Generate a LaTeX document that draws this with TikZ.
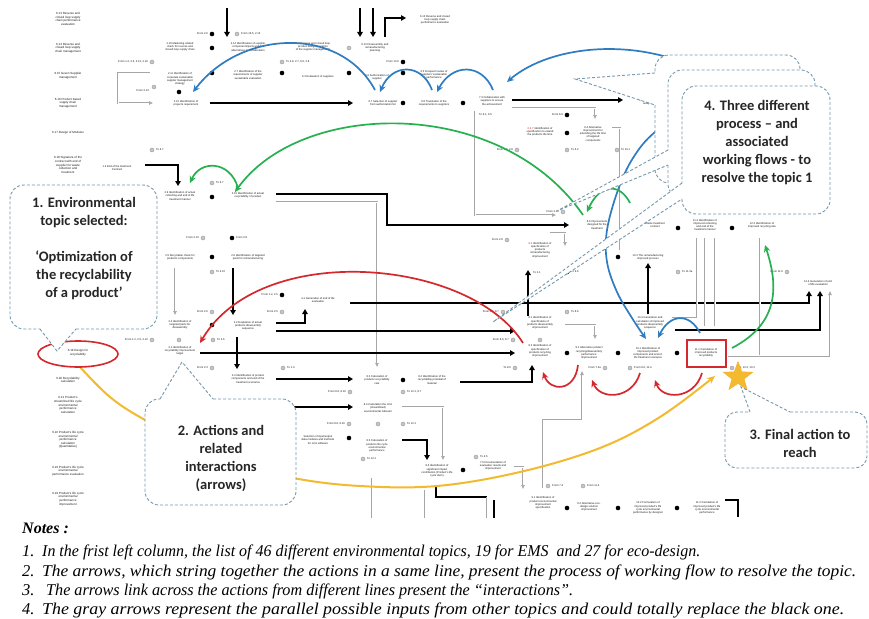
\documentclass[tikz,border=0pt]{standalone}
\usepackage{fontspec}
\usepackage{graphicx}
\setmainfont{Liberation Sans}
\newfontfamily\callfont{Carlito}
\newfontfamily\notefont{Liberation Serif}
\usetikzlibrary{arrows.meta,shapes.geometric}
\definecolor{cb}{RGB}{47,125,192}
\definecolor{cg}{RGB}{38,176,80}
\definecolor{cr}{RGB}{214,40,44}
\definecolor{cy}{RGB}{243,186,48}
\definecolor{cl}{RGB}{118,152,172}
\newcommand{\mydot}[1]{\fill[black] (#1) circle (2.3pt);}
\newcommand{\mysym}[1]{\filldraw[draw=gray!80, fill=gray!45, line width=0.4pt] (#1) circle (2pt);}
\begin{document}
\begin{tikzpicture}[x=1pt,y=-1pt,
 tx/.style={font=\fontsize{2.7}{3.2}\selectfont, align=center, inner sep=0pt, text=black!90},
 lc/.style={tx, font=\fontsize{3}{3.6}\selectfont},
 tl/.style={tx, anchor=east},
 tr/.style={tx, anchor=west},
 bk/.style={line width=2.4pt, -{Triangle[length=5pt,width=5.5pt]}},
 bkn/.style={line width=2.4pt},
 gy/.style={draw=gray!70, double=white, double distance=0.8pt, line width=0.55pt, -{Latex[length=4pt,width=4pt]}},
 gyn/.style={draw=gray!70, double=white, double distance=0.8pt, line width=0.55pt},
 carc/.style={line width=1.7pt, -{Stealth[length=7pt,width=6.5pt]}},
 cline/.style={draw=cl, line width=0.9pt, dash pattern=on 3pt off 2pt},
 ctext/.style={font=\callfont\bfseries\fontsize{14.5}{18}\selectfont, align=center, text=black!85},
 ntext/.style={font=\notefont\itshape\fontsize{16.5}{18}\selectfont, anchor=base west, inner sep=0pt},
]
\useasboundingbox (0,0) rectangle (869,618);
\fill[white] (0,0) rectangle (869,618);

% ---------- left column ----------
\node[lc] (c1) at (68,19) {6.13 Reverse and\\closed loop supply\\chain performance\\evaluation};
\node[lc] (c2) at (68,48) {6.14 Reverse and\\closed loop supply\\chain management};
\node[lc] (c3) at (68,76) {6.15 Green Supplier\\management};
\node[lc] (c4) at (68,103) {6.16 Product based\\supply chain\\management};
\node[lc] (c5) at (68,133) {6.17 Design of Modules};
\node[lc] (c6) at (68,165) {6.18 Signature of the\\contract with end of\\supplier for waste\\collection and\\treatment};
\node[lc] (c7) at (78,353) {6.19 Design for\\recyclability};
\node[lc] (c8) at (68,380) {6.20 Recyclability\\calculation};
\node[lc] (c9) at (68,405) {6.21 Product's\\streamlined life cycle\\environmental\\performance\\calculation};
\node[lc] (c10) at (68,440) {6.22 Product's life cycle\\environmental\\performance\\calculation\\(Quantitative)};
\node[lc] (c11) at (68,471) {6.23 Product's life cycle\\environmental\\performance evaluation};
\node[lc] (c12) at (68,499) {6.24 Product's life cycle\\environmental\\performance\\improvement};

% ---------- top rows ----------
\draw[bk] (227,8) -- (227,37);
\draw[bk] (360,8) -- (360,37);
\draw[bk] (373,8) -- (373,37);
\draw[bk] (385,37) -- (385,18) -- (406,18);
\node[tx] (n1) at (435,20) {6.13 Reverse and closed\\loop supply chain\\performance evaluation};
\node[tl] (f1) at (208,34) {From 2.6}; \mydot{212,34}
\mysym{237,34} \node[tr] (f2) at (241,34) {From 16.5, 2.15};
\node[tx] (n2) at (180,47) {2.16 Marketing related\\check for reverse and\\closed loop supply chain};
\mydot{212,48}
\node[tx] (n3) at (248,47) {2.14 Identification of supplier\\components/parts and the\\alternatives in consideration};
\node[tx] (n4) at (313,47) {6.4 Reverse and closed loop\\product design (Location\\of the supplier management)};
\mysym{349,48}
\node[tx] (n5) at (375,48) {6.12 Disassembly and\\remanufacturing\\planning};
\node[tl] (f3) at (399,62) {From 10.6}; \mydot{403,62}
\node[tl] (f4) at (148,62) {From 1.2, 2.5, 2.13, 2.16}; \mysym{152,62}
\mysym{282,62} \node[tr] (f5) at (286,62) {To 2.8, 2.7, 6.6, 2.8};
\node[tx] (n6) at (180,79) {2.11 Identification of\\corporate sustainable\\supplier management\\strategy};
\mydot{212,73}
\node[tx] (n7) at (248,75) {2.7 Identification of the\\requirements of supplier\\sustainable evaluation};
\mydot{282,73}
\node[tx] (n8) at (318,77) {6.3 Evaluation of suppliers};
\mydot{349,73}
\node[tx] (n9) at (377,77) {6.6 Authorization of\\supplier};
\mydot{403,73}
\node[tx] (n10) at (434,75) {6.5 Frequent review of\\suppliers' sustainable\\performance};
\draw[gy] (150,73) -- (118,73) -- (118,103) -- (153,103);
\mysym{154,87} \node[tl] (f6) at (149,91) {From 2.13};
\mydot{179,92}
\node[tx] (n11) at (186,103) {2.10 Identification of\\projects requirement};
\draw[bk] (210,103) -- (353,103);
\node[tx] (n12) at (383,103) {6.7 Selection of supplier\\from authorization list};
\mydot{403,103}
\node[tx] (n13) at (434,103) {6.8 Translation of the\\requirements to suppliers};
\mydot{463,103}
\node[tx] (n14) at (492,101) {7.3 Collaboration with\\suppliers to ensure\\the achievement};
\draw[bk] (512,100) -- (623,100);
\node[tx] (n15) at (648,102) {9.1 Alternative\\analysis};
\draw[gy] (512,108) -- (595,108) -- (595,119);
\node[tr] (f7) at (479,115) {To 6.1, 6.5};
\draw[gy] (475,111) -- (475,215) -- (556,215);
\node[tl] (f8) at (563,115) {From 6.9}; \mydot{567,115}
\node[tx] (n16) at (540,132) {{\color{cr}6.6.7} Identification of\\specification to extend\\the products life time};
\mydot{567,133}
\node[tx] (n17) at (593,134) {6.4 Alternative\\improvement for\\extending the life time\\of targeted\\components};
\node[tl] (f9) at (513,150) {From 6.9, 2.8}; \mysym{517,150}
\mysym{567,150} \node[tr] (f10) at (571,150) {To 6.2};
\mysym{617,150} \node[tr] (f11) at (621,150) {To 16.1};
\draw[gyn] (612,128) -- (620,128) -- (620,250);

% ---------- middle left ----------
\mysym{152,150} \node[tr] (f12) at (156,150) {To 6.7};
\node[tx] (n18) at (117,168) {1.3 End of the treatment\\Contract};
\draw[bk] (145,165) -- (178,165) -- (178,186);
\mysym{212,183} \node[tr] (f13) at (216,183) {To 6.7};
\node[tx] (n19) at (180,196) {2.9 Identification of actual\\collecting and end of life\\treatment manner};
\mydot{212,197}
\node[tx] (n20) at (248,195) {2.10 Identification of actual\\recyclability of product};
\draw[bk] (276,194) -- (387,194) -- (387,225) -- (569,225);
\draw[gy] (276,202) -- (377,202) -- (377,367);
\node[tl] (f14) at (199,238) {From 2.10}; \mysym{203,238}
\mydot{232,238} \node[tr] (f15) at (236,238) {From 2.8};
\node[tx] (n21) at (180,257) {2.5 Recyclable check for\\products components};
\mydot{212,257}
\node[tx] (n22) at (248,257) {2.6 Identification of targeted\\parts for remanufacturing};
\mysym{212,272} \node[tr] (f16) at (216,272) {To 2.10};
\draw[gy] (175,268) -- (175,315);
\draw[bk] (233,268) -- (233,315);
\node[tl] (f17) at (208,312) {From 2.6}; \mysym{212,312}
\mydot{282,295} \node[tl] (f18) at (278,295) {From 1.2, 2.5};
\mysym{282,312} \node[tl] (f19) at (278,312) {From 2.5};
\node[tx] (n23) at (180,325) {2.3 Identification of\\targeted parts for\\disassembly};
\mydot{212,325}
\node[tx] (n24) at (248,326) {2.2 Evaluation of actual\\products disassembly\\sequence};
\node[tl] (f20) at (148,340) {From 1.2, 2.5, 2.10}; \mysym{152,340}
\mysym{179,340}
\mysym{213,340} \node[tr] (f21) at (217,340) {To 2.6};
\node[tx] (n25) at (180,351) {2.1 Identification of\\recyclability improvement\\target};
\node[tl] (f22) at (208,368) {From 2.3}; \mysym{212,368}
\mysym{283,368} \node[tr] (f23) at (287,368) {To 1.4};
\node[tx] (n26) at (248,379) {2.4 Identification of product\\components and end of the\\treatment scenarios};
\draw[bk] (276,323) -- (305,323) -- (305,309);
\node[tx] (n27) at (318,300) {4.1 Generation of end of life\\evaluation};
\draw[bk] (350,303) -- (809,303) -- (809,291);
\draw[bk] (276,331) -- (515,331);
\draw[bk] (200,353) -- (515,353);
\draw[bk] (237,337) -- (237,369);
\draw[bk] (276,379) -- (353,379);
\node[tx] (n28) at (377,380) {8.3 Calculation of\\products recyclability\\rate};
\mydot{403,380}
\node[tx] (n29) at (432,380) {8.2 Identification of the\\recyclability potential of\\material};
\draw[bk] (460,382) -- (532,382) -- (532,365);
\node[tl] (f24) at (511,368) {To 8.6}; \mysym{515,368}
\node[tl] (f25) at (346,392) {From 8.6, 8.16}; \mysym{350,392}
\mysym{403,392} \node[tr] (f26) at (407,392) {To 12.1, 8.7};
\draw[bk] (290,407) -- (353,407);
\node[tx] (n30) at (378,408) {8.4 Calculation the LCA\\(streamlined)\\environmental indicator};
\draw[gy] (402,407) -- (443,407) -- (443,460);
\node[tl] (f27) at (345,424) {From 8.6, 8.16}; \mysym{349,424}
\mysym{378,424}
\mysym{403,424} \node[tr] (f28) at (407,424) {To 12.1};
\node[tx] (n31) at (318,440) {Selection of input/output\\data modules and methods\\for LCA software};
\mydot{349,438}
\node[tx] (n32) at (377,446) {8.5 Calculation of\\products life cycle\\environmental\\performance};
\draw[bk] (402,440) -- (427,440) -- (427,460);
\mysym{363,459} \node[tr] (f29) at (367,459) {To 12.1};
\mysym{476,457} \node[tr] (f30) at (480,457) {To 4.5};
\node[tx] (n33) at (437,471) {8.6 Identification of\\significant impact\\contributors (Product's life\\cycle stem)};
\mydot{463,470}
\node[tx] (n34) at (493,466) {7.5 Documentation of\\evaluation results and\\improvement};
\draw[gy] (514,467) -- (523,467) -- (523,489);
\draw[gyn] (372,478) -- (372,518);
\draw[gyn] (425,490) -- (425,518);
\draw[bkn] (436,486) -- (436,497) -- (487,497);
\draw[gyn] (487,497) -- (487,518);
\draw[bkn] (494,500) -- (494,518);

% ---------- middle right ----------
\node[tl] (f31) at (559,212) {From 2.10}; \mysym{563,212}
\node[tx] (n35) at (597,225) {6.6 Improvement\\designed for the\\treatment};
\node[tx] (n36) at (655,225) {Waste treatment\\contract};
\mydot{678,228}
\node[tx] (n37) at (705,225) {11.3 Identification of\\improved collecting\\and end of the\\treatment manner};
\mydot{732,228}
\node[tx] (n38) at (762,225) {12.3 Identification of\\improved recycling rate};
\draw[gyn] (697,238) -- (697,318) -- (672,318);
\draw[gyn] (705,238) -- (705,326);
\draw[gyn] (715,238) -- (715,326);
\draw[gyn] (760,238) -- (760,355);
\draw[gy] (728,357) -- (830,357) -- (830,291);
\node[tx] (n39) at (648,257) {10.3 The remanufacturing\\improved process};
\mydot{618,257}
\draw[bk] (648,314) -- (648,263);
\mysym{678,272} \node[tr] (f32) at (682,272) {To 11.3a};
\node[tl] (f33) at (783,272) {From 11.6}; \mysym{787,272}
\node[tx] (n40) at (818,283) {12.4 Generation of end\\of life evaluation};
\node[tx] (n41) at (540,250) {{\color{cr}8.5} Identification of\\specification of\\products\\remanufacturing\\improvement};
\node[tl] (f34) at (503,240) {From 2.8}; \mysym{507,240}
\draw[gy] (550,233) -- (565,233) -- (565,246);
\draw[bk] (528,316) -- (528,270);
\node[tr] (f35) at (533,273) {To 2.1};
\mydot{567,272} \node[tr] (f36) at (571,272) {To 9.6};
\draw[bk] (675,330) -- (820,330) -- (820,291);
\node[tx] (n42) at (540,323) {8.1 Identification of\\specification of\\products disassembly\\improvement};
\node[tl] (f37) at (499,312) {From 8.6, 8.7}; \mysym{503,312}
\mysym{567,312} \node[tr] (f38) at (571,312) {To 8.6};
\draw[gy] (565,325) -- (595,325) -- (595,339);
\node[tx] (n43) at (650,323) {10.4 Generation and\\calculation of improved\\products disassembly\\sequence};
\mysym{540,340}
\node[tl] (f39) at (509,340) {From 8.6, 8.7}; \mysym{513,340}
\node[tx] (n44) at (540,351) {8.2 Identification of\\specification of\\products recycling\\improvement};
\mydot{567,353}
\node[tx] (n45) at (589,353) {9.1 Alternative product\\recycling/disassembly\\performance\\improvement};
\mydot{618,353}
\node[tx] (n46) at (648,353) {10.1 Identification of\\improved product\\components and end-of-\\life treatment scenarios};
\mydot{677,353}
\node[tx] (n47) at (706,353) {11.1 Calculation of\\improved products\\recyclability};
\draw[cr, line width=1.1pt] (687,340) rectangle (726,367);
\mysym{732,368} \node[tr] (f40) at (736,368) {10.1, 10.2, 10.3};
\node[tl] (f41) at (601,368) {From 7.2a}; \mysym{605,368}
\mysym{630,368} \node[tr] (f42) at (634,368) {From 8.6, 11.4};
\draw[gy] (543,488) -- (543,420) -- (582,420) -- (582,371);

% ---------- bottom row ----------
\mysym{548,486} \node[tr] (f43) at (552,486) {From 7.4};
\mysym{583,486} \node[tr] (f44) at (587,486) {From 11.4};
\node[tx] (n48) at (543,503) {9.1 Identification of\\product environmental\\improvement\\specification};
\mydot{567,508}
\node[tx] (n49) at (589,507) {9.2 Alternative eco-\\design solution\\improvement};
\mydot{618,508}
\node[tx] (n50) at (648,508) {10.2 Formulation of\\improved product's life\\cycle environmental\\performance by designer};
\mydot{677,508}
\node[tx] (n51) at (707,508) {11.2 Calculation of\\improved product's life\\cycle environmental\\performance};
\draw[bkn] (725,500) -- (738,500) -- (738,517);

% ---------- coloured interactions ----------
\draw[cb, carc] (375,90) .. controls (340,25) and (240,30) .. (193,92);
\draw[cb, carc] (432,90) .. controls (422,63) and (392,63) .. (380,92);
\draw[cb, carc] (493,90) .. controls (482,63) and (452,63) .. (437,92);
\draw[cb, carc] (710,75) .. controls (640,35) and (550,45) .. (507,82);
\draw[cb, carc] plot[smooth, tension=0.6] coordinates {(700,100) (655,132) (633,158) (618,190) (607,230) (607,262) (617,292) (632,318) (646,339)};
\draw[cb, carc] (700,333) .. controls (690,313) and (670,313) .. (658,338);
\draw[cg, carc] (583,215) .. controls (500,95) and (300,100) .. (235,192);
\draw[cg, carc] (238,188) .. controls (230,160) and (200,160) .. (190,183);
\draw[cg, carc] (630,203) .. controls (620,183) and (600,183) .. (587,212);
\draw[cg, carc] (732,348) .. controls (782,322) and (777,282) .. (765,245);
\draw[cr, carc] (523,343) .. controls (470,258) and (260,240) .. (200,343);
\draw[cr, carc] (578,365) .. controls (575,392) and (550,392) .. (543,372);
\draw[cr, carc] (640,373) .. controls (632,400) and (600,400) .. (592,380);
\draw[cr, carc] (702,373) .. controls (694,400) and (662,400) .. (655,380);
\draw[cy, line width=2pt, -{Stealth[length=8pt,width=7pt]}] plot[smooth, tension=0.6] coordinates {(80,367) (110,397) (145,420) (220,460) (293,478) (360,486) (437,486) (520,472) (600,448) (660,417) (715,376)};
\draw[cr, line width=1.6pt] (78,354) ellipse [x radius=40, y radius=13];
\node[star, star points=5, star point ratio=2.4, fill=cy, draw=cy!80!orange, minimum size=31pt, inner sep=0pt] (star) at (738,377) {};

% ---------- callouts ----------
% 1
\fill[white, rounded corners=14pt] (10,185) rectangle (157,329);
\fill[white] (40,329) -- (57,351) -- (76,329) -- cycle;
\draw[cline, rounded corners=14pt] (76,329) -- (157,329) -- (157,185) -- (10,185) -- (10,329) -- (40,329);
\draw[cline] (40,329) -- (57,351) -- (76,329);
\node[ctext] (k1) at (84,249) {1. Environmental\\topic selected:\\\strut\\‘Optimization of\\the recyclability\\of a product’};
% 2
\fill[white, rounded corners=14pt] (145,399) rectangle (296,505);
\fill[white] (160,399) -- (182,362) -- (213,399) -- cycle;
\draw[cline, rounded corners=14pt] (213,399) -- (296,399) -- (296,505) -- (145,505) -- (145,399) -- (160,399);
\draw[cline] (160,399) -- (182,362) -- (213,399);
\node[ctext] (k2) at (221,458) {2. Actions and\\related\\interactions\\(arrows)};
% 3
\fill[white, rounded corners=12pt] (725,412) rectangle (867,468);
\fill[white] (750,412) -- (741,387) -- (790,412) -- cycle;
\draw[cline, rounded corners=12pt] (790,412) -- (867,412) -- (867,468) -- (725,468) -- (725,412) -- (750,412);
\draw[cline] (750,412) -- (741,387) -- (790,412);
\node[ctext] (k3) at (800,443) {3. Final action to\\reach};
% 4 (three stacked)
\fill[white, rounded corners=14pt] (655,55) rectangle (800,183);
\fill[white] (655,73) -- (575,79) -- (655,105) -- cycle;
\draw[cline, rounded corners=14pt] (655,105) -- (655,183) -- (800,183) -- (800,55) -- (655,55) -- (655,73);
\draw[cline] (655,73) -- (575,79) -- (655,105);
\fill[white, rounded corners=14pt] (668,70) rectangle (815,198);
\fill[white] (668,150) -- (557,211) -- (668,165) -- cycle;
\draw[cline, rounded corners=14pt] (668,165) -- (668,198) -- (815,198) -- (815,70) -- (668,70) -- (668,150);
\draw[cline] (668,150) -- (557,211) -- (668,165);
\fill[white, rounded corners=14pt] (682,86) rectangle (830,214);
\fill[white] (682,183) -- (493,322) -- (682,199) -- cycle;
\draw[cline, rounded corners=14pt] (682,199) -- (682,214) -- (830,214) -- (830,86) -- (682,86) -- (682,183);
\draw[cline] (682,183) -- (493,322) -- (682,199);
\node[ctext] (k4) at (757,143) {4. Three different\\process – and\\associated\\working flows - to\\resolve the topic 1};

% ---------- notes ----------
\node[anchor=base west, inner sep=0pt, font=\notefont\bfseries\itshape\fontsize{16}{18}\selectfont] (nt) at (22,533) {Notes :};
\node[ntext] (m1) at (22,556) {1.};
\node[ntext] (l1) at (42,556) {\resizebox{658pt}{\height}{In the frist left column, the list of 46 different environmental topics, 19 for EMS\ \ and 27 for eco-design.}};
\node[ntext] (m2) at (22,576) {2.};
\node[ntext] (l2) at (42,576) {\resizebox{814pt}{\height}{The arrows, which string together the actions in a same line, present the process of working flow to resolve the topic.}};
\node[ntext] (m3) at (22,595) {3.};
\node[ntext] (l3) at (46,595) {\resizebox{527pt}{\height}{The arrows link across the actions from different lines present the “interactions”.}};
\node[ntext] (m4) at (22,614) {4.};
\node[ntext] (l4) at (42,614) {\resizebox{802pt}{\height}{The gray arrows represent the parallel possible inputs from other topics and could totally replace the black one.}};
\end{tikzpicture}
\end{document}
